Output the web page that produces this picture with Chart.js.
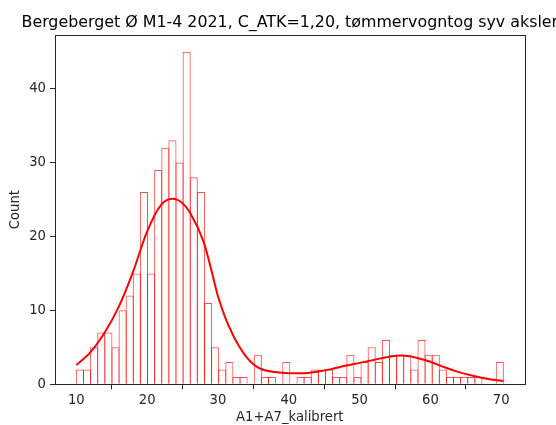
<!DOCTYPE html>
<html>
<head>
<meta charset="utf-8">
<script src="https://cdn.jsdelivr.net/npm/chart.js@4.4.1/dist/chart.umd.min.js"></script>
<style>
  html, body { margin: 0; padding: 0; background: #fff; }
  #wrap { width: 556px; height: 425px; position: relative; }
</style>
</head>
<body>
<div id="wrap"><canvas id="c" width="556" height="425"></canvas></div>
<script>
// Texts
const titleText = 'Bergeberget Ø M1-4 2021, C_ATK=1,20, tømmervogntog syv aksler';
const xLabel = 'A1+A7_kalibrert';
const yLabel = 'Count';

// Histogram bins: start, width, counts per bin
const binStart = 10.0;
const binWidth = 1.005;
const counts = [
  2, 2, 5, 7, 7, 5, 10, 12, 15, 26, 15, 29, 32, 33, 30, 45, 28, 26, 11, 5,
  2, 3, 1, 1, 0, 4, 1, 1, 0, 3, 0, 1, 1, 2, 2, 2, 1, 1, 4, 1,
  3, 5, 3, 6, 4, 4, 4, 2, 6, 4, 4, 2, 1, 1, 1, 1, 1, 0, 0, 3
];

// Density curve (scaled to counts)
const kdeX = [10, 12, 14, 16, 18, 20, 22, 23.6, 25, 26, 28, 29, 30, 31, 32, 33, 34, 35, 36, 38, 40,
              42, 44, 46, 48, 50, 52, 54, 56, 58, 60, 62, 64, 66, 68, 70, 70.3];
const kdeY = [2.6, 4.35, 7.0, 10.5, 15.2, 20.7, 24.3, 25.1, 24.5, 23.3, 19.2, 15.7, 11.9, 9.1, 6.9, 5.1, 3.7, 2.7, 2.1, 1.65, 1.5,
              1.5, 1.7, 2.05, 2.5, 2.9, 3.3, 3.7, 3.9, 3.6, 3.05, 2.3, 1.65, 1.15, 0.75, 0.47, 0.43];

// Axis ticks
const xTicks = [10, 20, 30, 40, 50, 60, 70];
const yTicks = [0, 10, 20, 30, 40];

const FONT = 'DejaVu Sans';
const AXIS = '#262626';
const X_MIN = 6.985, X_MAX = 73.3;
const PLOT_LEFT = 55, PLOT_RIGHT = 524.6;

const histData = counts.map((c, i) => ({ x: binStart + binWidth * (i + 0.5), y: c }));
const kdeData = kdeX.map((x, i) => ({ x: x, y: kdeY[i] }));

// widen each bar by one pixel so neighbouring outlines share a single edge
const binPx = binWidth * (PLOT_RIGHT - PLOT_LEFT) / (X_MAX - X_MIN);
const barPct = 1 + 1 / binPx;

// Axes frame on all four sides plus the title
const framePlugin = {
  id: 'frame',
  afterDatasetsDraw(chart) {
    const { ctx, chartArea: a } = chart;
    ctx.save();
    ctx.strokeStyle = AXIS;
    ctx.lineWidth = 1;
    ctx.strokeRect(Math.round(a.left) + 0.5, Math.round(a.top) + 0.5,
                   Math.round(a.right - a.left), Math.round(a.bottom - a.top));
    ctx.restore();
  },
  afterDraw(chart) {
    const { ctx, chartArea: a } = chart;
    ctx.save();
    ctx.font = '15.85px "' + FONT + '"';
    ctx.fillStyle = '#000';
    ctx.textAlign = 'center';
    ctx.textBaseline = 'alphabetic';
    ctx.fillText(titleText, (a.left + a.right) / 2, 26.5);
    ctx.restore();
  }
};

const tickFont = { family: FONT, size: 13.2 };

new Chart(document.getElementById('c'), {
  type: 'bar',
  data: {
    datasets: [
      {
        type: 'line',
        data: kdeData,
        borderColor: 'rgb(255,0,0)',
        borderWidth: 2,
        pointRadius: 0,
        fill: false,
        cubicInterpolationMode: 'monotone',
        order: 0
      },
      {
        type: 'bar',
        data: histData,
        backgroundColor: 'rgba(0,0,0,0)',
        borderColor: 'rgba(255,0,0,0.68)',
        borderWidth: ctx => (ctx.raw && ctx.raw.y > 0 ? 1 : 0),
        borderSkipped: 'start',
        barPercentage: barPct,
        categoryPercentage: 1,
        order: 1
      }
    ]
  },
  options: {
    responsive: false,
    devicePixelRatio: 1,
    animation: false,
    layout: { padding: { left: 0, right: 556 - PLOT_RIGHT, top: 35, bottom: 0 } },
    plugins: { legend: { display: false }, tooltip: { enabled: false }, title: { display: false } },
    scales: {
      x: {
        type: 'linear',
        min: X_MIN,
        max: X_MAX,
        offset: false,
        afterBuildTicks: s => { s.ticks = xTicks.map(v => ({ value: v })); },
        afterFit: s => { s.height = 40.7; },
        grid: { display: true, drawOnChartArea: false, drawTicks: true, tickLength: 5, color: AXIS, tickColor: AXIS },
        border: { display: true, color: AXIS, width: 1 },
        ticks: { font: tickFont, color: AXIS, padding: 3, maxRotation: 0, autoSkip: false },
        title: { display: true, text: xLabel, font: tickFont, color: AXIS, padding: { top: 0, bottom: 0 } }
      },
      y: {
        type: 'linear',
        min: 0,
        max: 47.25,
        afterBuildTicks: s => { s.ticks = yTicks.map(v => ({ value: v })); },
        afterFit: s => { s.width = PLOT_LEFT; },
        grid: { display: true, drawOnChartArea: false, drawTicks: true, tickLength: 5, color: AXIS, tickColor: AXIS },
        border: { display: true, color: AXIS, width: 1 },
        ticks: { font: tickFont, color: AXIS, padding: 4, autoSkip: false },
        title: { display: true, text: yLabel, font: tickFont, color: AXIS, padding: { top: 8, bottom: 0 } }
      }
    }
  },
  plugins: [framePlugin]
});
</script>
</body>
</html>
